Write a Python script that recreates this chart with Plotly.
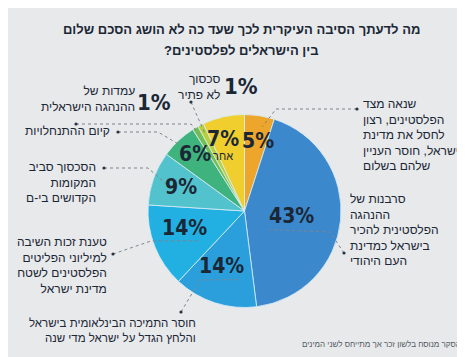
import math
import plotly.graph_objects as go

W, H = 465, 357

# ---- data ----
labels = [
    "שנאה מצד הפלסטינים",
    "סרבנות ההנהגה הפלסטינית",
    "חוסר התמיכה הבינלאומית",
    "טענת זכות השיבה",
    "הסכסוך סביב המקומות הקדושים",
    "קיום ההתנחלויות",
    "עמדות ההנהגה הישראלית",
    "סכסוך לא פתיר",
    "אחר",
]
values = [5, 43, 14, 14, 9, 6, 1, 1, 7]
colors = ["#eda52b", "#3b88cc", "#2a9fdc", "#22b0e2", "#52c2cc",
          "#3fb37d", "#74be56", "#b7cf3c", "#efce2e"]

title_lines = ["מה לדעתך הסיבה העיקרית לכך שעד כה לא הושג הסכם שלום",
               "\u200fבין הישראלים לפלסטינים?\u200f"]
footnote = "\u200f*הסקר מנוסח בלשון זכר אך מתייחס לשני המינים"

# ---- geometry ----
CX, CY, R = 236.5, 203, 96.5
def px(x): return x / W
def py(y): return 1 - y / H

PCT_FONT = "Liberation Sans Narrow, DejaVu Sans Condensed, Arial Narrow, sans-serif"
TXT_FONT = "Liberation Sans, Arial, DejaVu Sans, sans-serif"
DARK = "#1b2735"

fig = go.Figure(go.Pie(
    labels=labels, values=values,
    sort=False, direction="clockwise", rotation=0,
    marker=dict(colors=colors, line=dict(color="#d8eef8", width=0.8)),
    textinfo="none",
    domain=dict(x=[px(CX - R), px(CX + R)], y=[py(CY + R), py(CY - R)]),
    hoverinfo="label+percent", showlegend=False,
))

# slice mid angles (clockwise from 12 o'clock) from data
tot = sum(values)
mids = []
acc = 0
for v in values:
    mids.append((acc + v / 2) / tot * 360)
    acc += v

def pie_pt(deg, r):
    a = math.radians(deg)
    return CX + r * math.sin(a), CY - r * math.cos(a)

ann = []
def add_text(x, y, s, size=12, xanchor="right", align="right", bold=False, font=TXT_FONT, color=DARK):
    ann.append(dict(x=px(x), y=py(y), xref="paper", yref="paper", text=(f"<b>{s}</b>" if bold else s),
                    showarrow=False, xanchor=xanchor, yanchor="middle", align=align,
                    font=dict(family=font, size=size, color=color)))

# title
add_text(233, 21, title_lines[0], size=13, xanchor="center", align="center", bold=True)
add_text(233, 42, title_lines[1], size=13, xanchor="center", align="center", bold=True)

# in-pie percentage labels (angle offset from slice middle, radius)
label_pos = {0: (2.5, 69), 1: (3, 48), 2: (4, 62), 3: (4, 63), 4: (-1, 67), 5: (1, 74)}
for i, (da, r) in label_pos.items():
    x, y = pie_pt(mids[i] + da, r)
    add_text(x, y - 2, f"{values[i]}%", size=21, xanchor="center", bold=True, font=PCT_FONT)
# "other" slice: percentage with its name underneath, one text block
xo, yo = pie_pt(mids[8] - 5, 75)
add_text(xo + 1, yo + 5,
         f"<span style='font-size:21px;font-family:Liberation Sans Narrow, DejaVu Sans Condensed, sans-serif'>"
         f"<b>{values[8]}%</b></span><br>{labels[8]}",
         size=11, xanchor="center", align="center")

# category labels
add_text(353, 127, "שנאה מצד<br>הפלסטינים, רצון<br>לחסל את מדינת<br>ישראל, חוסר העניין<br>שלהם בשלום",
         xanchor="left", align="left")
add_text(340, 222, "סרבנות של<br>ההנהגה<br>הפלסטינית להכיר<br>בישראל כמדינת<br>העם היהודי",
         xanchor="left", align="left")
add_text(190, 322, "חוסר התמיכה הבינלאומית בישראל<br>והלחץ הגדל על ישראל מדי שנה", size=11.5)
add_text(101, 257, "טענת זכות השיבה<br>למיליוני הפליטים<br>הפלסטינים לשטח<br>מדינת ישראל")
add_text(90, 174, "הסכסוך סביב<br>המקומות<br>הקדושים בי-ם")
add_text(104, 123, "קיום ההתנחלויות")
add_text(129, 91, "עמדות של<br>ההנהגה הישראלית")
add_text(215, 79, "סכסוך<br>לא פתיר")

# outside percentages for the tiny slices
add_text(146, 95, f"{values[6]}%", size=22, xanchor="center", bold=True, font=PCT_FONT)
add_text(233, 78, f"{values[7]}%", size=22, xanchor="center", bold=True, font=PCT_FONT)

# footnote
add_text(458, 336, footnote, size=8, color="#555b62")

# leader lines: (label-end points..., pie point)
leaders = [
    ([(349, 101), (268, 101)], pie_pt(12, 86)),
    ([(336, 245), (322, 224)], pie_pt(127, 31)),
    ([(173, 304), (192, 272)], pie_pt(186, 69)),
    ([(105, 246), (143, 233)], pie_pt(236, 53)),
    ([(96, 160), (140, 160)], pie_pt(mids[4] - 1, 82)),
    ([(110, 124), (150, 124)], pie_pt(mids[5], 86)),
    ([(68, 116), (183, 116)], pie_pt(mids[6], 90)),
    ([(183, 94)], pie_pt(mids[7], 88)),
]
shapes = []
for pts, end in leaders:
    allp = pts + [end]
    path = "M " + " L ".join(f"{px(x)},{py(y)}" for x, y in allp)
    shapes.append(dict(type="path", path=path, xref="paper", yref="paper",
                       line=dict(color="#7d858d", width=1, dash="dot")))
    x0, y0 = pts[0]
    shapes.append(dict(type="circle", xref="paper", yref="paper",
                       x0=px(x0 - 1.6), x1=px(x0 + 1.6), y0=py(y0 + 1.6), y1=py(y0 - 1.6),
                       fillcolor="#2a3440", line=dict(width=0)))

fig.update_layout(
    width=W, height=H, margin=dict(l=0, r=0, t=0, b=0),
    paper_bgcolor="#e7e9eb", plot_bgcolor="#e7e9eb",
    annotations=ann, shapes=shapes,
)
fig.write_html("out.html")
